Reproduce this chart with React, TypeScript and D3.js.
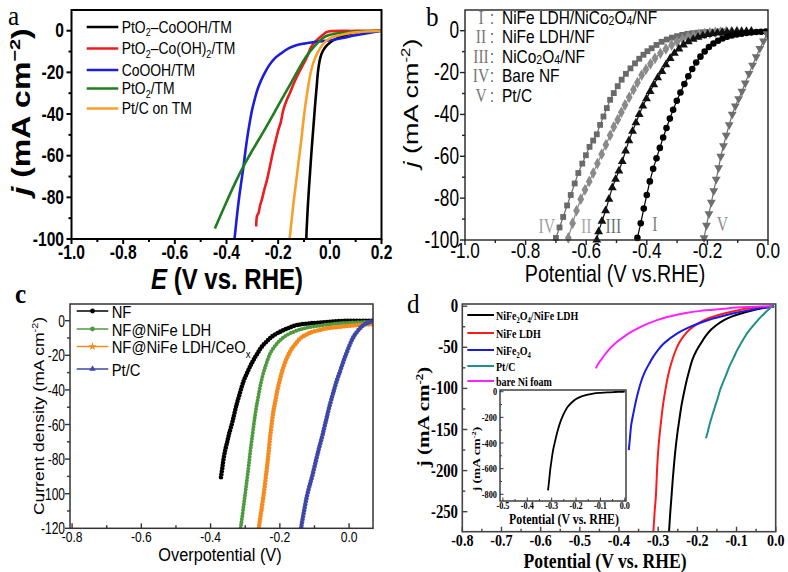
import React from "react";
import * as d3 from "d3";

type P = [number, number];

const SANS = "'Liberation Sans', Arial, Helvetica, sans-serif";
const SERIF = "'Liberation Serif', 'Times New Roman', Times, serif";

// ================= Panel a =================
const aLegend = ["PtO_{2}–CoOOH/TM", "PtO_{2}–Co(OH)_{2}/TM", "CoOOH/TM", "PtO_{2}/TM", "Pt/C on TM"];
const aColors = ["#000000", "#ee1c1c", "#1c1ce0", "#1e7e1e", "#f7a12b"];
const aYTicks = [0, -20, -40, -60, -80, -100];
const aYMinor = [-10, -30, -50, -70, -90];
const aXTicks = [-1.0, -0.8, -0.6, -0.4, -0.2, 0.0, 0.2];
const aXMinor = [-0.9, -0.7, -0.5, -0.3, -0.1, 0.1];

const aPtO2CoOOH: P[] = [[0.2, 0], [0.15, -0.3], [0.1, -1.0], [0.05, -2.5], [0.02, -4.2], [0.0, -5.8], [-0.015, -7.5], [-0.028, -10], [-0.037, -13], [-0.043, -17], [-0.047, -21], [-0.051, -27], [-0.056, -34], [-0.061, -42], [-0.066, -50], [-0.071, -58], [-0.076, -67], [-0.081, -76], [-0.085, -84], [-0.088, -91], [-0.09, -96], [-0.091, -100]];
const aPtO2CoOH2: P[] = [[0.2, 0], [0.1, -0.1], [0.0, -0.3], [-0.015, -0.8], [-0.025, -1.8], [-0.037, -3], [-0.05, -4.5], [-0.063, -6], [-0.075, -8.5], [-0.088, -12.5], [-0.1, -15.5], [-0.115, -19], [-0.127, -22], [-0.14, -25.5], [-0.155, -30], [-0.166, -33], [-0.18, -38], [-0.19, -44], [-0.2, -48], [-0.21, -53], [-0.218, -57], [-0.23, -64], [-0.243, -71.5], [-0.253, -76], [-0.263, -81], [-0.27, -84], [-0.276, -87.5], [-0.282, -89], [-0.285, -94]];
const aCoOOH: P[] = [[0.2, 0], [0.1, -2.2], [0.05, -3.5], [0.0, -4.6], [-0.05, -5.3], [-0.1, -6.2], [-0.13, -7], [-0.16, -8.5], [-0.19, -11], [-0.215, -13.5], [-0.237, -17], [-0.255, -21], [-0.27, -25], [-0.282, -29], [-0.292, -33.5], [-0.301, -38], [-0.31, -44], [-0.318, -50], [-0.326, -57], [-0.334, -65], [-0.342, -72], [-0.35, -79], [-0.357, -86], [-0.363, -93], [-0.369, -100]];
const aPtO2: P[] = [[0.2, 0], [0.1, -0.5], [0.05, -1], [0.0, -2], [-0.02, -3], [-0.04, -5], [-0.06, -7.5], [-0.08, -10.5], [-0.1, -14], [-0.15, -25], [-0.2, -36], [-0.25, -47], [-0.3, -57.5], [-0.334, -65], [-0.37, -74], [-0.41, -85], [-0.445, -95]];
const aPtC: P[] = [[0.2, 0], [0.1, -0.8], [0.05, -1.8], [0.02, -2.7], [0.0, -3.7], [-0.015, -5], [-0.03, -7], [-0.045, -10], [-0.06, -14], [-0.072, -19], [-0.08, -24], [-0.088, -30], [-0.095, -36], [-0.103, -44], [-0.11, -52], [-0.118, -60], [-0.126, -68], [-0.134, -76], [-0.141, -83], [-0.147, -90], [-0.153, -97], [-0.156, -100]];
const aData = [aPtO2CoOOH, aPtO2CoOH2, aCoOOH, aPtO2, aPtC];

// ================= Panel b =================
const bNumerals = ["I", "II", "III", "IV", "V"];
const bLegend = ["NiFe LDH/NiCo_{2}O_{4}/NF", "NiFe LDH/NF", "NiCo_{2}O_{4}/NF", "Bare NF", "Pt/C"];
const bYTicks = [0, -20, -40, -60, -80, -100];
const bYMinor = [-10, -30, -50, -70, -90];
const bXTicks = [-1.0, -0.8, -0.6, -0.4, -0.2, 0.0];
const bXMinor = [-0.9, -0.7, -0.5, -0.3, -0.1];

const bI: P[] = [[-0.431, -99], [-0.42, -92], [-0.41, -85], [-0.4, -78.5], [-0.39, -72], [-0.379, -66], [-0.368, -61], [-0.357, -56], [-0.346, -51], [-0.335, -46.5], [-0.324, -42], [-0.313, -37.8], [-0.301, -33.5], [-0.289, -29.5], [-0.276, -25.5], [-0.263, -21.8], [-0.25, -18.3], [-0.237, -15.2], [-0.223, -12.4], [-0.209, -9.9], [-0.195, -7.8], [-0.18, -6.1], [-0.165, -4.8], [-0.15, -3.7], [-0.135, -2.9], [-0.119, -2.3], [-0.103, -1.8], [-0.087, -1.4], [-0.071, -1.1], [-0.055, -0.85], [-0.039, -0.65], [-0.023, -0.5], [-0.007, -0.4]];
const bII: P[] = [[-0.659, -99], [-0.645, -92], [-0.632, -86], [-0.618, -80.5], [-0.604, -76], [-0.59, -72], [-0.577, -68], [-0.563, -63.5], [-0.549, -59], [-0.535, -54.5], [-0.521, -50], [-0.509, -46], [-0.496, -42.5], [-0.484, -39], [-0.472, -35.5], [-0.458, -31.8], [-0.444, -28.2], [-0.431, -24.8], [-0.417, -21.2], [-0.403, -18.5], [-0.388, -15.8], [-0.373, -13.2], [-0.355, -10.8], [-0.337, -8.7], [-0.318, -6.8], [-0.3, -5.3], [-0.282, -4.1], [-0.264, -3.1], [-0.246, -2.4], [-0.228, -1.8], [-0.21, -1.4], [-0.192, -1.1], [-0.174, -0.85], [-0.156, -0.65], [-0.138, -0.5], [-0.12, -0.4], [-0.102, -0.35]];
const bIII: P[] = [[-0.565, -100], [-0.559, -96], [-0.548, -91], [-0.536, -86], [-0.525, -80.5], [-0.514, -75], [-0.503, -71], [-0.492, -67], [-0.481, -62.5], [-0.47, -57.5], [-0.459, -52.5], [-0.447, -48], [-0.436, -44], [-0.425, -40], [-0.413, -36], [-0.401, -32.5], [-0.389, -29], [-0.377, -25.8], [-0.364, -22.5], [-0.35, -19.5], [-0.337, -16.3], [-0.323, -13.2], [-0.309, -10.8], [-0.294, -8.7], [-0.279, -6.8], [-0.263, -5.3], [-0.247, -4.1], [-0.231, -3.1], [-0.215, -2.4], [-0.199, -1.8], [-0.183, -1.4], [-0.167, -1.1], [-0.151, -0.85], [-0.135, -0.65], [-0.119, -0.5], [-0.103, -0.4], [-0.087, -0.32], [-0.071, -0.26], [-0.055, -0.2]];
const bIV: P[] = [[-0.7, -99], [-0.688, -94], [-0.676, -89], [-0.663, -83.5], [-0.651, -78.5], [-0.638, -73], [-0.626, -68], [-0.613, -63.5], [-0.601, -59.5], [-0.589, -55.5], [-0.577, -52.5], [-0.565, -49.5], [-0.554, -45], [-0.543, -41], [-0.532, -37], [-0.521, -33], [-0.509, -29.8], [-0.496, -26.5], [-0.483, -23.4], [-0.469, -20.6], [-0.454, -18], [-0.439, -15.6], [-0.425, -13.4], [-0.411, -11.5], [-0.398, -9.8], [-0.384, -8.4], [-0.368, -6.8], [-0.351, -5.3], [-0.334, -4.2], [-0.317, -3.3], [-0.3, -2.6], [-0.283, -2.0], [-0.266, -1.5], [-0.249, -1.2], [-0.232, -0.95], [-0.215, -0.75], [-0.198, -0.6], [-0.181, -0.5], [-0.164, -0.4], [-0.147, -0.35]];
const bV: P[] = [[-0.211, -99], [-0.203, -93], [-0.195, -87.5], [-0.187, -82], [-0.179, -76.5], [-0.171, -71], [-0.163, -65.5], [-0.156, -60], [-0.147, -55], [-0.138, -50], [-0.128, -45], [-0.118, -40], [-0.108, -36], [-0.097, -32.5], [-0.086, -29], [-0.075, -25], [-0.063, -20.5], [-0.051, -16.5], [-0.039, -12.5], [-0.027, -8.5], [-0.015, -5], [-0.003, -1.5]];
// drawing order: IV, II, III, I, V
const bData = [bIV, bII, bIII, bI, bV];
const bColors = ["#6a6a6a", "#8a8a8a", "#111111", "#000000", "#6e6e6e"];
const bSymbols = ["square", "diamond", "triangle", "circle", "down"];
const bCurveLabels = ["IV", "II", "III", "I", "V"];
const bCurveLabelPos: P[] = [[-0.73, -94], [-0.6, -94], [-0.51, -94], [-0.373, -93], [-0.15, -93]];
const bCurveLabelColors = ["#a0a0a0", "#a8a8a8", "#707070", "#7a7a7a", "#8c8c8c"];

// ================= Panel c =================
const cLegend = ["NF", "NF@NiFe LDH", "NF@NiFe LDH/CeO_{x}", "Pt/C"];
const cColors = ["#000000", "#4e9a3e", "#f78a1d", "#3d47a8"];
const cYTicks = [0, -20, -40, -60, -80, -100, -120];
const cYLabels = ["0", "-20", "-40", "-60", "-80", "-100", "-120"];
const cYMinor = [-10, -30, -50, -70, -90, -110];
const cXTicks = [-0.8, -0.6, -0.4, -0.2, 0.0];
const cXMinor = [-0.7, -0.5, -0.3, -0.1];

const cNF: P[] = [[-0.37, -90.5], [-0.366, -85], [-0.363, -80.5], [-0.358, -75], [-0.353, -70.9], [-0.346, -65], [-0.338, -59.3], [-0.331, -53.5], [-0.324, -47.8], [-0.317, -43], [-0.31, -38.2], [-0.303, -34], [-0.295, -30.4], [-0.286, -26.5], [-0.276, -22.7], [-0.264, -18.7], [-0.252, -15], [-0.238, -12], [-0.223, -9.2], [-0.206, -7.1], [-0.189, -5.4], [-0.17, -3.8], [-0.151, -2.5], [-0.122, -1.7], [-0.093, -1.2], [-0.06, -0.7], [-0.025, -0.2], [0.02, -0.05], [0.069, 0]];
const cLDH: P[] = [[-0.318, -125], [-0.312, -118], [-0.305, -107.5], [-0.3, -100], [-0.295, -92.1], [-0.29, -84], [-0.286, -76.7], [-0.281, -69], [-0.276, -61.3], [-0.271, -54], [-0.266, -47.8], [-0.261, -42.5], [-0.257, -38.2], [-0.25, -32], [-0.242, -26.6], [-0.235, -22.5], [-0.228, -18.9], [-0.218, -15.7], [-0.208, -13.1], [-0.195, -10.5], [-0.18, -8.3], [-0.16, -6.4], [-0.141, -5], [-0.117, -3.9], [-0.093, -3.1], [-0.06, -2.2], [-0.025, -1.5], [0.02, -1], [0.069, -0.6]];
const cCeOx: P[] = [[-0.264, -125], [-0.258, -116], [-0.252, -108], [-0.247, -101], [-0.242, -93], [-0.237, -84.4], [-0.232, -75.5], [-0.228, -67.1], [-0.223, -59], [-0.218, -51.6], [-0.212, -45.5], [-0.207, -40.1], [-0.201, -35], [-0.195, -30.4], [-0.189, -26.5], [-0.182, -22.7], [-0.174, -19.2], [-0.165, -16], [-0.153, -13], [-0.141, -10.2], [-0.127, -8.4], [-0.112, -6.9], [-0.088, -5.5], [-0.064, -4.4], [-0.035, -3.7], [-0.006, -3.1], [0.03, -2.5], [0.069, -1.9]];
const cPtC: P[] = [[-0.142, -125], [-0.137, -118], [-0.13, -110], [-0.122, -101.7], [-0.115, -96], [-0.107, -90.2], [-0.1, -84.5], [-0.093, -78.6], [-0.086, -73], [-0.078, -67.1], [-0.071, -61.3], [-0.064, -55.5], [-0.057, -49.7], [-0.049, -43.9], [-0.042, -39], [-0.035, -34.3], [-0.027, -29.8], [-0.02, -25.6], [-0.013, -21.6], [-0.006, -17.9], [0.001, -14.4], [0.008, -11.2], [0.015, -8.6], [0.023, -6.4], [0.032, -4.3], [0.042, -2.5], [0.051, -1.4], [0.061, -0.6], [0.069, -0.2]];
const cData = [cNF, cLDH, cCeOx, cPtC];
const cSymbols = ["circle", "circle", "star", "triangle"];

// ================= Panel d =================
const dLegend = ["NiFe_{2}O_{4}/NiFe LDH", "NiFe LDH", "NiFe_{2}O_{4}", "Pt/C", "bare Ni foam"];
const dColors = ["#000000", "#ff1a1a", "#1a1ae6", "#1f8f8a", "#ff22ff"];
const dYTicks = [0, -50, -100, -150, -200, -250];
const dYMinor = [-25, -75, -125, -175, -225];
const dXTicks = [-0.8, -0.7, -0.6, -0.5, -0.4, -0.3, -0.2, -0.1, 0.0];
const dXMinor = [-0.75, -0.65, -0.55, -0.45, -0.35, -0.25, -0.15, -0.05];

const dComposite: P[] = [[-0.273, -280], [-0.269, -250], [-0.266, -231.7], [-0.263, -212], [-0.26, -195.2], [-0.256, -175], [-0.251, -154.7], [-0.246, -138], [-0.241, -122.2], [-0.234, -105], [-0.227, -89.8], [-0.22, -77], [-0.213, -65.5], [-0.202, -54], [-0.191, -45.2], [-0.179, -36.5], [-0.166, -29], [-0.15, -22.5], [-0.132, -16.9], [-0.111, -12.4], [-0.089, -8.8], [-0.063, -5.5], [-0.038, -2.8], [-0.02, -1.2], [-0.004, 0]];
const dLDH: P[] = [[-0.313, -280], [-0.309, -250], [-0.306, -231.7], [-0.302, -191], [-0.299, -170], [-0.295, -150.6], [-0.291, -133], [-0.287, -118], [-0.282, -103], [-0.277, -89.8], [-0.271, -77], [-0.264, -65.5], [-0.256, -54.5], [-0.247, -45.2], [-0.235, -36.5], [-0.221, -29], [-0.203, -22.5], [-0.183, -16.9], [-0.158, -12.4], [-0.132, -8.8], [-0.102, -5.5], [-0.072, -2.8], [-0.04, -1.2], [-0.004, 0]];
const dNiFe2O4: P[] = [[-0.375, -175], [-0.372, -160], [-0.369, -145], [-0.364, -132], [-0.358, -118], [-0.351, -104], [-0.343, -91], [-0.334, -80], [-0.323, -70], [-0.312, -61], [-0.3, -53], [-0.287, -46], [-0.272, -40], [-0.256, -34.5], [-0.24, -30], [-0.22, -25.5], [-0.197, -21], [-0.17, -16.5], [-0.14, -12.5], [-0.11, -9], [-0.08, -6], [-0.05, -3.3], [-0.025, -1.5], [-0.004, 0]];
const dPtC: P[] = [[-0.178, -160.7], [-0.173, -152], [-0.168, -142.5], [-0.162, -133], [-0.155, -122.3], [-0.148, -112], [-0.142, -102], [-0.134, -92], [-0.125, -81.6], [-0.117, -72], [-0.108, -63.4], [-0.1, -55], [-0.091, -47.2], [-0.081, -39], [-0.07, -31], [-0.06, -25], [-0.049, -18.9], [-0.038, -13], [-0.027, -7.9], [-0.018, -4], [-0.01, -0.6], [-0.005, 0]];
const dNiFoam: P[] = [[-0.459, -75.6], [-0.453, -70], [-0.447, -66], [-0.438, -60], [-0.428, -54], [-0.416, -48], [-0.404, -43], [-0.387, -37], [-0.37, -31.5], [-0.35, -26.5], [-0.328, -21.5], [-0.303, -17], [-0.277, -13.2], [-0.252, -10.3], [-0.226, -8], [-0.196, -6], [-0.166, -4.5], [-0.132, -3], [-0.1, -1.7], [-0.068, -0.9], [-0.038, -0.3], [-0.01, 0]];
const dData = [dComposite, dLDH, dNiFe2O4, dPtC, dNiFoam];

// inset
const iYTicks = [0, -200, -400, -600, -800];
const iYMinor = [-100, -300, -500, -700];
const iXTicks = [-0.5, -0.4, -0.3, -0.2, -0.1, 0.0];
const iXMinor = [-0.45, -0.35, -0.25, -0.15, -0.05];
const iComposite: P[] = [[-0.315, -770], [-0.312, -720], [-0.309, -665], [-0.306, -610], [-0.302, -555], [-0.298, -500], [-0.293, -445], [-0.287, -395], [-0.281, -345], [-0.274, -295], [-0.266, -245], [-0.257, -200], [-0.246, -155], [-0.234, -118], [-0.22, -88], [-0.2, -57], [-0.18, -38], [-0.16, -26], [-0.13, -15], [-0.1, -9], [-0.07, -5], [-0.04, -2.5], [-0.01, -0.5], [0.0, 0]];

// ================= helpers =================
function rich(s: string, size: number, subDy = 0.3, subScale = 0.65) {
  const parts = s.split(/(_\{[^}]*\}|\^\{[^}]*\}|~\{[^}]*\})/).filter((p) => p !== "");
  let shift = 0;
  return parts.map((p, i) => {
    if (p.startsWith("_{")) {
      const d = subDy * size;
      const el = <tspan key={i} dy={d - shift} fontSize={size * subScale}>{p.slice(2, -1)}</tspan>;
      shift = d;
      return el;
    }
    if (p.startsWith("^{")) {
      const d = -0.4 * size;
      const el = <tspan key={i} dy={d - shift} fontSize={size * 0.62}>{p.slice(2, -1)}</tspan>;
      shift = d;
      return el;
    }
    if (p.startsWith("~{")) {
      const el = <tspan key={i} dy={-shift} fontStyle="italic">{p.slice(2, -1)}</tspan>;
      shift = 0;
      return el;
    }
    const el = <tspan key={i} dy={-shift}>{p}</tspan>;
    shift = 0;
    return el;
  });
}

type TP = { x: number; y: number; size: number; sx?: number; anchor?: string; family?: string; weight?: any; fill?: string; rot?: boolean; children: any };
function T({ x, y, size, sx = 1, anchor = "start", family = SANS, weight = "normal", fill = "#000", rot = false, children }: TP) {
  const tr = rot ? `translate(${x},${y}) rotate(-90) scale(1,${sx})` : `translate(${x},${y}) scale(${sx},1)`;
  return (
    <text transform={tr} fontSize={size} textAnchor={anchor as any} fontFamily={family} fontWeight={weight} fill={fill}>
      {children}
    </text>
  );
}

type Box = { l: number; r: number; t: number; b: number };
function Ticks({ xs, ys, box, xMaj, xMin, yMaj, yMin, xDir, yDir, maj, min, stroke, sw }: any) {
  return (
    <g stroke={stroke} strokeWidth={sw}>
      {yMaj.map((v: number, i: number) => <line key={"ym" + i} x1={box.l} x2={box.l + yDir * maj} y1={ys(v)} y2={ys(v)} />)}
      {yMin.map((v: number, i: number) => <line key={"yn" + i} x1={box.l} x2={box.l + yDir * min} y1={ys(v)} y2={ys(v)} />)}
      {xMaj.map((v: number, i: number) => <line key={"xm" + i} y1={box.b} y2={box.b + xDir * maj} x1={xs(v)} x2={xs(v)} />)}
      {xMin.map((v: number, i: number) => <line key={"xn" + i} y1={box.b} y2={box.b + xDir * min} x1={xs(v)} x2={xs(v)} />)}
    </g>
  );
}

function symPath(kind: string, size: number) {
  const t = kind === "square" ? d3.symbolSquare : kind === "diamond" ? d3.symbolDiamond : kind === "triangle" || kind === "down" ? d3.symbolTriangle : kind === "star" ? d3.symbolStar : d3.symbolCircle;
  return d3.symbol().type(t).size(size)() as string;
}

const fmt1 = (v: number) => (Math.abs(v) < 1e-9 ? "0.0" : v.toFixed(1));

// ================= Panel A =================
function PanelA() {
  const box: Box = { l: 71.5, r: 381.5, t: 10, b: 239 };
  const xs = d3.scaleLinear().domain([-1.0, 0.2]).range([box.l, box.r]);
  const ys = d3.scaleLinear().domain([-100, 0]).range([239, 30.7]);
  const line = d3.line<P>().x((d) => xs(d[0])).y((d) => ys(d[1])).curve(d3.curveCatmullRom.alpha(0.5));
  const rows = [27, 48.5, 70, 88.5, 108.5];
  return (
    <g>
      <defs>
        <clipPath id="clipA"><rect x={box.l} y={box.t} width={box.r - box.l} height={box.b - box.t} /></clipPath>
      </defs>
      <g clipPath="url(#clipA)">
        {aData.map((d, i) => (
          <path key={i} d={line(d) as string} fill="none" stroke={aColors[i]} strokeWidth={2.6} strokeLinejoin="round" />
        ))}
      </g>
      <rect x={box.l} y={box.t} width={box.r - box.l} height={box.b - box.t} fill="none" stroke="#000" strokeWidth={2} />
      <Ticks xs={xs} ys={ys} box={box} xMaj={aXTicks} xMin={aXMinor} yMaj={aYTicks} yMin={aYMinor} xDir={1} yDir={-1} maj={5} min={3} stroke="#000" sw={2} />
      {aYTicks.map((v, i) => (
        <T key={i} x={64} y={ys(v) + 6.5} size={20} sx={0.78} anchor="end" weight="bold">{String(v)}</T>
      ))}
      {aXTicks.map((v, i) => (
        <T key={i} x={xs(v)} y={259} size={20} sx={0.78} anchor="middle" weight="bold">{fmt1(v)}</T>
      ))}
      <T x={227} y={289} size={30} sx={0.8} anchor="middle" weight="bold">{rich("~{E} (V vs. RHE)", 30)}</T>
      <T x={30} y={112} size={32} sx={0.78} anchor="middle" weight="bold" rot>{rich("~{j} (mA cm^{−2})", 32)}</T>
      {aLegend.map((s, i) => (
        <g key={i}>
          <line x1={86.7} x2={118.3} y1={rows[i]} y2={rows[i]} stroke={aColors[i]} strokeWidth={2.6} />
          <T x={121.7} y={rows[i] + 5.5} size={16} sx={0.87}>{rich(s, 16, 0.22)}</T>
        </g>
      ))}
      <T x={8} y={25} size={28} sx={0.9} family={SERIF}>a</T>
    </g>
  );
}

// ================= Panel B =================
function PanelB() {
  const box: Box = { l: 465, r: 768, t: 10, b: 240 };
  const xs = d3.scaleLinear().domain([-1.0, 0.0]).range([box.l, box.r]);
  const ys = d3.scaleLinear().domain([-100, 0]).range([240, 30.7]);
  const line = d3.line<P>().x((d) => xs(d[0])).y((d) => ys(d[1]));
  const rows = [17, 36.5, 56, 75.5, 95];
  return (
    <g>
      <defs>
        <clipPath id="clipB"><rect x={box.l} y={box.t} width={box.r - box.l} height={box.b - box.t + 4} /></clipPath>
      </defs>
      <g clipPath="url(#clipB)">
        {bData.map((d, i) => (
          <g key={i}>
            <path d={line(d) as string} fill="none" stroke={bColors[i]} strokeWidth={1.2} />
            {d.map((p, j) => (
              <path key={j} d={symPath(bSymbols[i], bSymbols[i] === "diamond" ? 40 : 34)} fill={bColors[i]}
                transform={`translate(${xs(p[0])},${ys(p[1])})${bSymbols[i] === "down" ? " rotate(180)" : ""}`} />
            ))}
          </g>
        ))}
      </g>
      <rect x={box.l} y={box.t} width={box.r - box.l} height={box.b - box.t} fill="none" stroke="#222" strokeWidth={1.4} />
      <Ticks xs={xs} ys={ys} box={box} xMaj={bXTicks} xMin={bXMinor} yMaj={bYTicks} yMin={bYMinor} xDir={1} yDir={-1} maj={5} min={3} stroke="#222" sw={1.4} />
      {bYTicks.map((v, i) => (
        <T key={i} x={459} y={ys(v) + 7.5} size={23} sx={0.75} anchor="end">{String(v)}</T>
      ))}
      {bXTicks.map((v, i) => (
        <T key={i} x={xs(v)} y={258} size={22} sx={0.78} anchor="middle">{fmt1(v)}</T>
      ))}
      <T x={615} y={282} size={24} sx={0.82} anchor="middle">Potential (V vs.RHE)</T>
      <T x={418} y={103} size={27} sx={0.73} anchor="middle" rot>{rich("~{j} (mA cm^{-2})", 27)}</T>
      {bLegend.map((s, i) => (
        <g key={i}>
          <T x={481} y={rows[i] + 6.5} size={18} sx={0.86} anchor="middle" family={SERIF} fill="#777">{bNumerals[i]}</T>
          <T x={490} y={rows[i] + 6.5} size={18} sx={0.8} fill="#555">:</T>
          <T x={502} y={rows[i] + 6.5} size={18} sx={0.86}>{rich(s, 18, 0.08, 0.68)}</T>
        </g>
      ))}
      {bCurveLabels.map((s, i) => (
        <T key={i} x={xs(bCurveLabelPos[i][0])} y={ys(bCurveLabelPos[i][1]) + 6} size={21} sx={0.75} anchor="middle" family={SERIF} fill={bCurveLabelColors[i]}>{s}</T>
      ))}
      <T x={426} y={26} size={28} sx={0.9} family={SERIF}>b</T>
    </g>
  );
}

// ================= Panel C =================
function PanelC() {
  const box: Box = { l: 70, r: 373, t: 304, b: 528.3 };
  const xs = d3.scaleLinear().domain([-0.806, 0.069]).range([box.l, box.r]);
  const ys = d3.scaleLinear().domain([-120, 0]).range([528.3, 320.7]);
  const line = d3.line<P>().x((d) => xs(d[0])).y((d) => ys(d[1])).curve(d3.curveCatmullRom.alpha(0.5));
  const rows = [311, 329, 346.5, 369];
  const dotW = [4.6, 4.0, 4.6, 4.6];
  return (
    <g>
      <defs>
        <clipPath id="clipC"><rect x={box.l} y={box.t} width={box.r - box.l} height={box.b - box.t} /></clipPath>
      </defs>
      <g clipPath="url(#clipC)">
        {cData.map((d, i) => (
          <g key={i}>
            <path d={line(d) as string} fill="none" stroke={cColors[i]} strokeWidth={1.4} />
            <path d={line(d) as string} fill="none" stroke={cColors[i]} strokeWidth={dotW[i]} strokeDasharray="0 3" strokeLinecap="round" />
          </g>
        ))}
      </g>
      <rect x={box.l} y={box.t} width={box.r - box.l} height={box.b - box.t} fill="none" stroke="#333" strokeWidth={1.5} />
      <Ticks xs={xs} ys={ys} box={box} xMaj={cXTicks} xMin={cXMinor} yMaj={cYTicks} yMin={cYMinor} xDir={-1} yDir={-1} maj={5} min={3} stroke="#333" sw={1.4} />
      {cYTicks.map((v, i) => (
        <T key={i} x={65} y={ys(v) + 6} size={16} sx={0.75} anchor="end">{cYLabels[i]}</T>
      ))}
      {cXTicks.map((v, i) => (
        <T key={i} x={xs(v)} y={542} size={15.5} sx={0.78} anchor="middle">{fmt1(v)}</T>
      ))}
      <T x={220} y={561} size={19} sx={0.86} anchor="middle">Overpotential (V)</T>
      <T x={44} y={416} size={17.5} sx={0.8} anchor="middle" rot>{rich("Current density (mA cm^{-2})", 17.5)}</T>
      {cLegend.map((s, i) => (
        <g key={i}>
          <line x1={76.7} x2={108.3} y1={rows[i]} y2={rows[i]} stroke={cColors[i]} strokeWidth={1.3} />
          <path d={symPath(cSymbols[i], cSymbols[i] === "star" ? 22 : 18)} fill={cColors[i]} transform={`translate(92.5,${rows[i]})`} />
          <T x={111.7} y={rows[i] + 6.5} size={17} sx={0.87}>{rich(s, 17)}</T>
        </g>
      ))}
      <T x={15} y={303} size={28} sx={0.9} family={SERIF} weight="bold">c</T>
    </g>
  );
}

// ================= Panel D =================
function PanelD() {
  const box: Box = { l: 462.3, r: 775.7, t: 304, b: 531.7 };
  const xs = d3.scaleLinear().domain([-0.8, 0.0]).range([box.l, box.r]);
  const ys = d3.scaleLinear().domain([-250, 0]).range([511.7, 306.2]);
  const line = d3.line<P>().x((d) => xs(d[0])).y((d) => ys(d[1])).curve(d3.curveCatmullRom.alpha(0.5));
  const rows = [315, 333, 350, 366, 381];

  const ib: Box = { l: 500, r: 626, t: 390, b: 501 };
  const ixs = d3.scaleLinear().domain([-0.5, 0.0]).range([502.9, 624.8]);
  const iys = d3.scaleLinear().domain([-800, 0]).range([494.3, 391.7]);
  const iline = d3.line<P>().x((d) => ixs(d[0])).y((d) => iys(d[1])).curve(d3.curveCatmullRom.alpha(0.5));
  return (
    <g>
      <defs>
        <clipPath id="clipD"><rect x={box.l} y={box.t} width={box.r - box.l} height={box.b - box.t} /></clipPath>
      </defs>
      <g clipPath="url(#clipD)">
        {dData.map((d, i) => (
          <path key={i} d={line(d) as string} fill="none" stroke={dColors[i]} strokeWidth={2} strokeLinejoin="round" />
        ))}
      </g>
      <rect x={box.l} y={box.t} width={box.r - box.l} height={box.b - box.t} fill="none" stroke="#444" strokeWidth={1.6} />
      <Ticks xs={xs} ys={ys} box={box} xMaj={dXTicks} xMin={dXMinor} yMaj={dYTicks} yMin={dYMinor} xDir={-1} yDir={1} maj={5} min={3} stroke="#444" sw={1.4} />
      {dYTicks.map((v, i) => (
        <T key={i} x={458} y={ys(v) + 6} size={18} sx={0.82} anchor="end" weight="bold" family={SERIF}>{String(v)}</T>
      ))}
      {dXTicks.map((v, i) => (
        <T key={i} x={xs(v)} y={546} size={16} sx={0.88} anchor="middle" weight="bold" family={SERIF}>{fmt1(v)}</T>
      ))}
      <T x={605} y={568} size={21} sx={0.84} anchor="middle" weight="bold" family={SERIF}>Potential (V vs. RHE)</T>
      <T x={429} y={417} size={21} sx={0.75} anchor="middle" weight="bold" family={SERIF} rot>{rich("j (mA cm^{-2})", 21)}</T>
      {dLegend.map((s, i) => (
        <g key={i}>
          <line x1={467.3} x2={494} y1={rows[i]} y2={rows[i]} stroke={dColors[i]} strokeWidth={2} />
          <T x={496} y={rows[i] + 4.5} size={13} sx={0.77} weight="bold" family={SERIF}>{rich(s, 13)}</T>
        </g>
      ))}
      {/* inset */}
      <rect x={ib.l} y={ib.t} width={ib.r - ib.l} height={ib.b - ib.t} fill="#fff" stroke="#333" strokeWidth={1.4} />
      <path d={iline(iComposite) as string} fill="none" stroke="#000" strokeWidth={1.8} />
      <Ticks xs={ixs} ys={iys} box={ib} xMaj={iXTicks} xMin={iXMinor} yMaj={iYTicks} yMin={iYMinor} xDir={-1} yDir={1} maj={3.5} min={2} stroke="#333" sw={1} />
      {iYTicks.map((v, i) => (
        <T key={i} x={497} y={iys(v) + 3.5} size={11} sx={0.75} anchor="end" weight="bold" family={SERIF}>{String(v)}</T>
      ))}
      {iXTicks.map((v, i) => (
        <T key={i} x={ixs(v)} y={508.5} size={10.5} sx={0.78} anchor="middle" weight="bold" family={SERIF}>{fmt1(v)}</T>
      ))}
      <T x={564} y={524} size={14.5} sx={0.82} anchor="middle" weight="bold" family={SERIF}>Potential (V vs. RHE)</T>
      <T x={480} y={459} size={13.5} sx={0.76} anchor="middle" weight="bold" family={SERIF} rot>{rich("j (mA cm^{-2})", 13.5)}</T>
      <T x={407} y={313} size={28} sx={0.9} family={SERIF}>d</T>
    </g>
  );
}

export default function App() {
  return (
    <div style={{ position: "absolute", left: 0, top: 0, width: 788, height: 572, background: "#fff" }}>
      <svg width={788} height={572} viewBox="0 0 788 572" style={{ display: "block" }}>
        <rect x={0} y={0} width={788} height={572} fill="#fff" />
        <PanelA />
        <PanelB />
        <PanelC />
        <PanelD />
      </svg>
    </div>
  );
}
